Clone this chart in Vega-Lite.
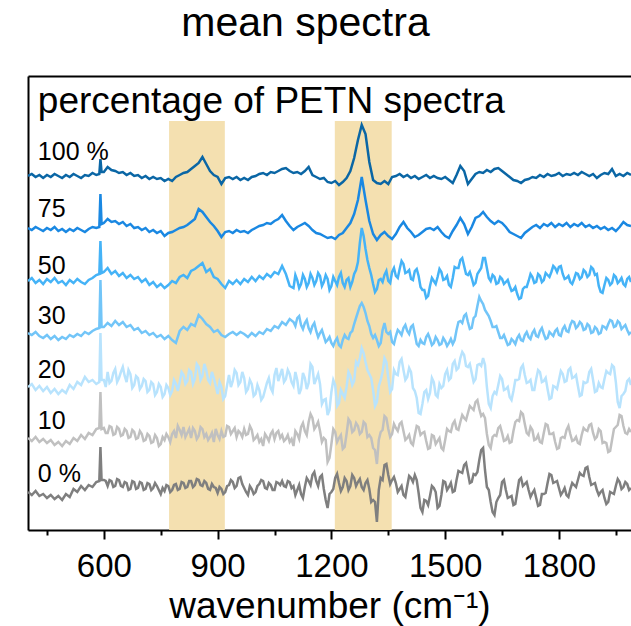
{
"$schema": "https://vega.github.io/schema/vega-lite/v6.json",
"width": 603, "height": 454,
"autosize": {"type": "none"},
"padding": {"left": 28, "top": 76, "right": 0, "bottom": 96},
"title": {"text": "mean spectra", "fontSize": 41, "font": "Liberation Sans", "fontWeight": "normal", "color": "#000000", "anchor": "middle", "dx": -24, "dy": 21, "baseline": "alphabetic", "offset": 20},
"config": {"view": {"stroke": null}, "font": "Liberation Sans"},
"datasets": {
"spec": [
{"x":400,"a":354,"b":302,"c":249,"d":197,"e":143,"f":92,"g":38},
{"x":410,"a":356,"b":300,"c":252,"d":195,"e":146,"f":89,"g":35},
{"x":420,"a":353,"b":303,"c":247,"d":198,"e":140,"f":93,"g":39},
{"x":430,"a":355,"b":301,"c":250,"d":194,"e":144,"f":88,"g":34},
{"x":440,"a":352,"b":299,"c":246,"d":192,"e":139,"f":91,"g":36},
{"x":450,"a":355,"b":302,"c":251,"d":195,"e":143,"f":87,"g":32},
{"x":460,"a":353,"b":300,"c":248,"d":191,"e":137,"f":90,"g":35},
{"x":470,"a":356,"b":303,"c":252,"d":194,"e":141,"f":85,"g":31},
{"x":480,"a":354,"b":299,"c":247,"d":190,"e":136,"f":88,"g":34},
{"x":490,"a":352,"b":301,"c":249,"d":193,"e":140,"f":84,"g":30},
{"x":500,"a":355,"b":298,"c":245,"d":191,"e":137,"f":89,"g":36},
{"x":510,"a":353,"b":301,"c":250,"d":195,"e":145,"f":86,"g":33},
{"x":520,"a":356,"b":299,"c":247,"d":193,"e":141,"f":92,"g":41},
{"x":530,"a":354,"b":302,"c":251,"d":196,"e":148,"f":89,"g":38},
{"x":540,"a":352,"b":300,"c":248,"d":194,"e":145,"f":95,"g":44},
{"x":550,"a":355,"b":298,"c":246,"d":198,"e":153,"f":91,"g":40},
{"x":560,"a":354,"b":301,"c":250,"d":196,"e":148,"f":97,"g":45},
{"x":570,"a":357,"b":303,"c":252,"d":199,"e":150,"f":95,"g":43},
{"x":580,"a":355,"b":302,"c":255,"d":201,"e":146,"f":101,"g":48},
{"x":588,"a":356,"b":303,"c":256,"d":202,"e":148,"f":102,"g":49},
{"x":591,"a":371,"b":336,"c":289,"d":250,"e":197,"f":138,"g":83},
{"x":594,"a":358,"b":306,"c":257,"d":203,"e":150,"f":101,"g":50},
{"x":600,"a":358,"b":307,"c":258,"d":203,"e":150,"f":102,"g":50},
{"x":610,"a":363,"b":311,"c":262,"d":207,"e":158,"f":97,"g":44},
{"x":620,"a":360,"b":308,"c":256,"d":204,"e":149,"f":103,"g":49},
{"x":630,"a":359,"b":309,"c":259,"d":209,"e":161,"f":96,"g":44},
{"x":640,"a":357,"b":306,"c":254,"d":205,"e":152,"f":101,"g":50},
{"x":650,"a":358,"b":308,"c":257,"d":208,"e":163,"f":95,"g":43},
{"x":660,"a":355,"b":304,"c":252,"d":203,"e":148,"f":99,"g":47},
{"x":670,"a":357,"b":306,"c":255,"d":205,"e":156,"f":93,"g":41},
{"x":680,"a":354,"b":302,"c":251,"d":200,"e":145,"f":98,"g":48},
{"x":690,"a":355,"b":303,"c":253,"d":202,"e":152,"f":92,"g":42},
{"x":700,"a":352,"b":300,"c":248,"d":197,"e":144,"f":96,"g":47},
{"x":710,"a":354,"b":302,"c":251,"d":199,"e":149,"f":90,"g":41},
{"x":720,"a":351,"b":298,"c":245,"d":195,"e":140,"f":94,"g":46},
{"x":730,"a":353,"b":300,"c":248,"d":197,"e":146,"f":88,"g":42},
{"x":740,"a":351,"b":297,"c":243,"d":193,"e":138,"f":92,"g":44},
{"x":750,"a":352,"b":299,"c":246,"d":195,"e":143,"f":86,"g":36},
{"x":760,"a":349,"b":294,"c":242,"d":191,"e":136,"f":90,"g":39},
{"x":770,"a":351,"b":297,"c":245,"d":194,"e":142,"f":93,"g":44},
{"x":780,"a":349,"b":298,"c":249,"d":190,"e":139,"f":96,"g":40},
{"x":790,"a":353,"b":300,"c":247,"d":187,"e":146,"f":92,"g":46},
{"x":800,"a":355,"b":302,"c":253,"d":199,"e":148,"f":100,"g":41},
{"x":810,"a":357,"b":303,"c":255,"d":203,"e":155,"f":103,"g":47},
{"x":820,"a":358,"b":305,"c":252,"d":200,"e":149,"f":97,"g":43},
{"x":830,"a":361,"b":308,"c":259,"d":206,"e":158,"f":92,"g":49},
{"x":840,"a":364,"b":311,"c":261,"d":204,"e":151,"f":99,"g":45},
{"x":850,"a":367,"b":321,"c":264,"d":215,"e":163,"f":94,"g":50},
{"x":860,"a":373,"b":318,"c":267,"d":211,"e":154,"f":101,"g":44},
{"x":870,"a":366,"b":313,"c":258,"d":206,"e":160,"f":96,"g":47},
{"x":880,"a":359,"b":308,"c":261,"d":203,"e":147,"f":93,"g":40},
{"x":890,"a":355,"b":304,"c":253,"d":198,"e":152,"f":88,"g":43},
{"x":900,"a":353,"b":299,"c":251,"d":200,"e":136,"f":95,"g":37},
{"x":910,"a":346,"b":293,"c":246,"d":195,"e":143,"f":99,"g":41},
{"x":920,"a":352,"b":298,"c":242,"d":193,"e":134,"f":94,"g":38},
{"x":930,"a":353,"b":299,"c":249,"d":196,"e":155,"f":103,"g":45},
{"x":940,"a":351,"b":297,"c":246,"d":198,"e":149,"f":99,"g":48},
{"x":950,"a":353,"b":300,"c":250,"d":195,"e":157,"f":93,"g":44},
{"x":960,"a":350,"b":298,"c":246,"d":198,"e":148,"f":97,"g":53},
{"x":970,"a":352,"b":299,"c":251,"d":196,"e":152,"f":101,"g":42},
{"x":980,"a":350,"b":297,"c":248,"d":193,"e":141,"f":96,"g":35},
{"x":990,"a":353,"b":300,"c":253,"d":197,"e":146,"f":100,"g":41},
{"x":1000,"a":354,"b":302,"c":249,"d":194,"e":136,"f":92,"g":38},
{"x":1010,"a":356,"b":304,"c":254,"d":198,"e":140,"f":88,"g":46},
{"x":1020,"a":357,"b":305,"c":251,"d":196,"e":133,"f":84,"g":49},
{"x":1030,"a":355,"b":307,"c":256,"d":201,"e":147,"f":93,"g":41},
{"x":1040,"a":358,"b":306,"c":253,"d":199,"e":142,"f":96,"g":45},
{"x":1050,"a":357,"b":309,"c":258,"d":204,"e":155,"f":91,"g":40},
{"x":1060,"a":359,"b":311,"c":256,"d":202,"e":149,"f":99,"g":47},
{"x":1070,"a":361,"b":315,"c":264,"d":208,"e":161,"f":95,"g":49},
{"x":1080,"a":362,"b":309,"c":256,"d":205,"e":151,"f":91,"g":43},
{"x":1090,"a":359,"b":304,"c":244,"d":211,"e":156,"f":88,"g":48},
{"x":1100,"a":357,"b":300,"c":242,"d":208,"e":144,"f":84,"g":44},
{"x":1110,"a":358,"b":303,"c":250,"d":212,"e":150,"f":96,"g":40},
{"x":1120,"a":356,"b":305,"c":246,"d":205,"e":141,"f":103,"g":36},
{"x":1130,"a":359,"b":307,"c":251,"d":207,"e":152,"f":99,"g":43},
{"x":1140,"a":363,"b":304,"c":247,"d":202,"e":147,"f":108,"g":49},
{"x":1150,"a":355,"b":300,"c":252,"d":204,"e":163,"f":112,"g":55},
{"x":1160,"a":353,"b":297,"c":249,"d":199,"e":151,"f":104,"g":49},
{"x":1170,"a":351,"b":296,"c":254,"d":197,"e":146,"f":99,"g":53},
{"x":1180,"a":352,"b":294,"c":248,"d":194,"e":130,"f":92,"g":41},
{"x":1190,"a":348,"b":292,"c":251,"d":190,"e":115,"f":68,"g":22},
{"x":1200,"a":347,"b":293,"c":244,"d":187,"e":138,"f":86,"g":38},
{"x":1210,"a":349,"b":291,"c":249,"d":189,"e":145,"f":98,"g":52},
{"x":1220,"a":345,"b":295,"c":253,"d":185,"e":127,"f":92,"g":47},
{"x":1230,"a":348,"b":297,"c":247,"d":190,"e":136,"f":81,"g":43},
{"x":1240,"a":352,"b":302,"c":250,"d":192,"e":143,"f":96,"g":49},
{"x":1250,"a":359,"b":307,"c":243,"d":197,"e":154,"f":108,"g":44},
{"x":1260,"a":372,"b":316,"c":256,"d":206,"e":149,"f":100,"g":52},
{"x":1270,"a":390,"b":330,"c":268,"d":218,"e":165,"f":104,"g":48},
{"x":1280,"a":405,"b":353,"c":302,"d":227,"e":182,"f":98,"g":43},
{"x":1290,"a":396,"b":330,"c":281,"d":217,"e":168,"f":106,"g":47},
{"x":1300,"a":368,"b":309,"c":262,"d":204,"e":156,"f":95,"g":41},
{"x":1310,"a":350,"b":296,"c":246,"d":192,"e":140,"f":82,"g":30},
{"x":1320,"a":347,"b":290,"c":241,"d":190,"e":128,"f":66,"g":8},
{"x":1330,"a":346,"b":295,"c":251,"d":187,"e":150,"f":98,"g":52},
{"x":1340,"a":349,"b":298,"c":255,"d":207,"e":172,"f":114,"g":65},
{"x":1350,"a":346,"b":294,"c":249,"d":196,"e":152,"f":101,"g":55},
{"x":1360,"a":353,"b":291,"c":258,"d":188,"e":141,"f":96,"g":50},
{"x":1370,"a":354,"b":296,"c":254,"d":194,"e":156,"f":102,"g":47},
{"x":1380,"a":356,"b":303,"c":261,"d":198,"e":168,"f":106,"g":41},
{"x":1390,"a":353,"b":308,"c":266,"d":202,"e":160,"f":99,"g":35},
{"x":1400,"a":355,"b":302,"c":258,"d":199,"e":153,"f":92,"g":44},
{"x":1410,"a":352,"b":298,"c":251,"d":203,"e":158,"f":87,"g":52},
{"x":1420,"a":354,"b":293,"c":259,"d":196,"e":139,"f":95,"g":55},
{"x":1430,"a":351,"b":295,"c":254,"d":184,"e":117,"f":103,"g":37},
{"x":1440,"a":353,"b":298,"c":240,"d":187,"e":126,"f":97,"g":18},
{"x":1450,"a":355,"b":301,"c":232,"d":193,"e":140,"f":89,"g":29},
{"x":1460,"a":352,"b":302,"c":244,"d":191,"e":137,"f":82,"g":34},
{"x":1470,"a":354,"b":300,"c":249,"d":187,"e":148,"f":94,"g":42},
{"x":1480,"a":352,"b":303,"c":253,"d":190,"e":133,"f":89,"g":22},
{"x":1490,"a":351,"b":298,"c":258,"d":186,"e":142,"f":82,"g":35},
{"x":1500,"a":353,"b":294,"c":251,"d":189,"e":156,"f":90,"g":48},
{"x":1510,"a":350,"b":292,"c":245,"d":187,"e":150,"f":99,"g":43},
{"x":1520,"a":347,"b":299,"c":252,"d":186,"e":166,"f":106,"g":38},
{"x":1530,"a":355,"b":305,"c":262,"d":200,"e":160,"f":101,"g":50},
{"x":1540,"a":364,"b":312,"c":270,"d":209,"e":172,"f":108,"g":58},
{"x":1550,"a":359,"b":306,"c":264,"d":214,"e":175,"f":112,"g":65},
{"x":1560,"a":346,"b":296,"c":255,"d":208,"e":163,"f":117,"g":57},
{"x":1570,"a":351,"b":303,"c":252,"d":202,"e":157,"f":122,"g":48},
{"x":1580,"a":356,"b":312,"c":247,"d":214,"e":151,"f":128,"g":55},
{"x":1590,"a":358,"b":314,"c":259,"d":233,"e":166,"f":121,"g":70},
{"x":1600,"a":357,"b":318,"c":272,"d":226,"e":172,"f":116,"g":82},
{"x":1610,"a":360,"b":313,"c":262,"d":217,"e":143,"f":96,"g":43},
{"x":1620,"a":358,"b":309,"c":249,"d":209,"e":122,"f":82,"g":28},
{"x":1630,"a":361,"b":306,"c":253,"d":203,"e":138,"f":95,"g":15},
{"x":1640,"a":362,"b":309,"c":247,"d":198,"e":145,"f":102,"g":32},
{"x":1650,"a":359,"b":307,"c":251,"d":192,"e":151,"f":97,"g":48},
{"x":1660,"a":356,"b":303,"c":248,"d":190,"e":141,"f":90,"g":40},
{"x":1670,"a":353,"b":298,"c":244,"d":186,"e":133,"f":87,"g":33},
{"x":1680,"a":350,"b":296,"c":240,"d":189,"e":139,"f":99,"g":25},
{"x":1690,"a":349,"b":294,"c":236,"d":192,"e":150,"f":110,"g":38},
{"x":1700,"a":347,"b":292,"c":232,"d":190,"e":162,"f":118,"g":52},
{"x":1710,"a":350,"b":297,"c":243,"d":195,"e":155,"f":106,"g":46},
{"x":1720,"a":351,"b":300,"c":249,"d":193,"e":148,"f":95,"g":40},
{"x":1730,"a":353,"b":303,"c":253,"d":197,"e":140,"f":100,"g":37},
{"x":1740,"a":352,"b":305,"c":248,"d":194,"e":151,"f":91,"g":32},
{"x":1750,"a":355,"b":302,"c":254,"d":199,"e":158,"f":88,"g":25},
{"x":1760,"a":353,"b":306,"c":250,"d":196,"e":149,"f":97,"g":36},
{"x":1770,"a":356,"b":304,"c":255,"d":192,"e":141,"f":105,"g":47},
{"x":1780,"a":354,"b":307,"c":258,"d":196,"e":132,"f":96,"g":55},
{"x":1790,"a":355,"b":303,"c":262,"d":199,"e":143,"f":88,"g":48},
{"x":1800,"a":357,"b":306,"c":263,"d":195,"e":150,"f":82,"g":42},
{"x":1810,"a":354,"b":304,"c":256,"d":201,"e":156,"f":93,"g":38},
{"x":1820,"a":356,"b":307,"c":252,"d":199,"e":149,"f":100,"g":35},
{"x":1830,"a":355,"b":303,"c":248,"d":205,"e":162,"f":96,"g":41},
{"x":1840,"a":357,"b":306,"c":251,"d":208,"e":153,"f":90,"g":45},
{"x":1850,"a":355,"b":304,"c":256,"d":204,"e":144,"f":87,"g":50},
{"x":1860,"a":358,"b":307,"c":253,"d":206,"e":135,"f":95,"g":55},
{"x":1870,"a":356,"b":303,"c":258,"d":201,"e":147,"f":100,"g":62},
{"x":1880,"a":354,"b":305,"c":255,"d":204,"e":158,"f":105,"g":53},
{"x":1890,"a":356,"b":302,"c":261,"d":198,"e":150,"f":97,"g":46},
{"x":1900,"a":352,"b":304,"c":256,"d":201,"e":139,"f":93,"g":40},
{"x":1910,"a":355,"b":301,"c":238,"d":197,"e":143,"f":99,"g":38},
{"x":1920,"a":357,"b":303,"c":245,"d":203,"e":151,"f":88,"g":32},
{"x":1930,"a":356,"b":300,"c":250,"d":206,"e":157,"f":78,"g":28},
{"x":1940,"a":361,"b":302,"c":247,"d":209,"e":165,"f":90,"g":37},
{"x":1950,"a":354,"b":299,"c":253,"d":204,"e":148,"f":103,"g":44},
{"x":1960,"a":356,"b":303,"c":249,"d":207,"e":122,"f":115,"g":48},
{"x":1970,"a":354,"b":308,"c":246,"d":203,"e":136,"f":104,"g":43},
{"x":1980,"a":357,"b":305,"c":251,"d":200,"e":149,"f":96,"g":46},
{"x":1990,"a":355,"b":304,"c":248,"d":198,"e":145,"f":98,"g":42},
{"x":605,"e":143,"f":97,"g":49},{"x":615,"e":147,"f":104,"g":50},{"x":625,"e":157,"f":95,"g":43},{"x":635,"e":148,"f":103,"g":51},{"x":645,"e":158,"f":94,"g":44},
{"x":655,"e":154,"f":101,"g":48},{"x":665,"e":160,"f":92,"g":40},{"x":675,"e":142,"f":100,"g":49},{"x":685,"e":154,"f":91,"g":41},{"x":695,"e":141,"f":99,"g":48},
{"x":705,"e":151,"f":89,"g":40},{"x":715,"e":138,"f":96,"g":47},{"x":725,"e":148,"f":87,"g":40},{"x":735,"e":135,"f":95,"g":47},{"x":745,"e":146,"f":84,"g":40},
{"x":755,"e":133,"f":93,"g":42},{"x":765,"e":145,"f":96,"g":45},{"x":775,"e":135,"f":88,"g":38},{"x":785,"e":150,"f":99,"g":45},{"x":795,"e":139,"f":104,"g":40},
{"x":805,"e":158,"f":95,"g":48},{"x":815,"e":146,"f":93,"g":42},{"x":825,"e":160,"f":101,"g":49},{"x":835,"e":146,"f":102,"g":43},{"x":845,"e":166,"f":91,"g":51},
{"x":855,"e":150,"f":103,"g":45},{"x":865,"e":166,"f":93,"g":49},{"x":875,"e":150,"f":90,"g":41},{"x":885,"e":158,"f":97,"g":46},{"x":895,"e":144,"f":101,"g":42},
{"x":905,"e":148,"f":91,"g":43},{"x":915,"e":131,"f":93,"g":36},{"x":925,"e":145,"f":104,"g":44},{"x":935,"e":143,"f":96,"g":50},{"x":945,"e":160,"f":102,"g":42},
{"x":955,"e":145,"f":99,"g":52},{"x":965,"e":158,"f":93,"g":46},{"x":975,"e":138,"f":95,"g":38},{"x":985,"e":150,"f":104,"g":44},{"x":995,"e":134,"f":90,"g":36},
{"x":1005,"e":145,"f":95,"g":44},{"x":1015,"e":130,"f":91,"g":50},{"x":1025,"e":140,"f":96,"g":42},{"x":1035,"e":152,"f":89,"g":47},{"x":1045,"e":138,"f":99,"g":40},
{"x":1055,"e":162,"f":97,"g":48},{"x":1065,"e":155,"f":92,"g":45},{"x":1075,"e":148,"f":89,"g":44},{"x":1085,"e":160,"f":95,"g":49},{"x":1095,"e":148,"f":91,"g":42},
{"x":1105,"c":255,"d":204,"e":158,"f":99,"g":35},{"x":1115,"c":242,"d":214,"e":136,"f":91,"g":45},{"x":1125,"c":255,"d":201,"e":157,"f":107,"g":32},{"x":1135,"c":243,"d":210,"e":141,"f":95,"g":52},{"x":1145,"c":256,"d":198,"e":166,"f":116,"g":45},
{"x":1155,"c":245,"d":207,"e":146,"f":101,"g":58},{"x":1165,"c":257,"d":193,"e":156,"f":108,"g":44},{"x":1175,"c":244,"d":200,"e":126,"f":88,"g":55},{"x":1185,"c":255,"d":188,"e":131,"f":90,"g":30},{"x":1195,"c":240,"d":193,"e":120,"f":72,"g":36},
{"x":1205,"c":253,"d":184,"e":150,"f":101,"g":41},{"x":1215,"c":245,"d":192,"e":124,"f":88,"g":56},{"x":1225,"c":257,"d":183,"e":140,"f":95,"g":39},{"x":1235,"c":243,"d":195,"e":132,"f":83,"g":52},{"x":1245,"c":252,"d":191,"e":158,"f":111,"g":40},
{"x":1255,"c":248,"d":199,"e":145,"f":98,"g":55},{"x":1265,"c":260,"d":212,"e":168,"f":107,"g":44},{"x":1275,"c":287,"d":224,"e":172,"f":96,"g":51},{"x":1285,"c":294,"d":223,"e":177,"f":108,"g":40},{"x":1295,"c":270,"d":209,"e":160,"f":93,"g":50},
{"x":1305,"c":255,"d":196,"e":152,"f":92,"g":28},{"x":1315,"c":238,"d":195,"e":124,"f":80,"g":28},{"x":1325,"c":250,"d":184,"e":144,"f":90,"g":40},{"x":1335,"c":248,"d":200,"e":158,"f":100,"g":50},{"x":1345,"c":259,"d":198,"e":168,"f":112,"g":66},
{"x":1355,"c":247,"d":198,"e":138,"f":93,"g":46},{"x":1365,"c":262,"d":186,"e":160,"f":106,"g":53},{"x":1375,"c":252,"d":200,"e":155,"f":99,"g":38},{"x":1385,"c":269,"d":195,"e":171,"f":108,"g":44},{"x":1395,"c":257,"d":205,"e":150,"f":90,"g":33},
{"x":1405,"c":260,"d":196,"e":162,"f":95,"g":54},{"x":1415,"c":250,"d":205,"e":142,"f":85,"g":48},{"x":1425,"c":261,"d":186,"e":132,"f":104,"g":50},{"x":1435,"c":243,"d":190,"e":116,"f":95,"g":22},{"x":1445,"c":240,"d":186,"e":138,"f":98,"g":30},
{"x":1455,"c":234,"d":196,"e":131,"f":81,"g":25},{"x":1465,"c":252,"d":185,"e":152,"f":95,"g":44},{"x":1475,"c":246,"d":193,"e":135,"f":86,"g":38},{"x":1485,"c":261,"d":185,"e":146,"f":92,"g":24},{"x":1495,"c":250,"d":192,"e":144,"f":80,"g":49},
{"x":1505,"c":254,"d":184,"e":160,"f":101,"g":40},{"x":1515,"c":243,"d":191,"e":152,"f":98,"g":47},{"x":1525,"c":263,"d":190,"e":169,"f":109,"g":39},{"x":1535,"c":262,"d":208,"e":162,"f":100,"g":59},{"x":1545,"c":272,"d":207,"e":178,"f":115,"g":57},
{"x":1555,"c":256,"d":216,"e":164,"f":110,"g":67},{"x":1565,"c":258,"d":201,"e":166,"f":124,"g":47},{"x":1575,"c":245,"d":212,"e":148,"f":120,"g":56},{"x":1585,"c":256,"d":224,"e":165,"f":130,"g":58},{"x":1595,"c":262,"d":229,"e":164,"f":114,"g":80},
{"x":1605,"c":272,"d":220,"e":165,"f":112,"g":60},{"x":1615,"c":252,"d":214,"e":126,"f":85,"g":40},{"x":1625,"c":255,"d":203,"e":134,"f":93,"g":18},{"x":1635,"c":246,"d":204,"e":136,"f":94,"g":28},{"x":1645,"c":253,"d":192,"e":154,"f":104,"g":35},
{"x":1655,"c":246,"d":195,"e":140,"f":89,"g":50},{"x":1665,"c":250,"d":185,"e":143,"f":94,"g":32},{"x":1675,"c":239,"d":191,"e":130,"f":88,"g":34},{"x":1685,"c":243,"d":186,"e":150,"f":108,"g":26},{"x":1695,"c":231,"d":195,"e":151,"f":109,"g":50},
{"x":1705,"c":241,"d":189,"e":165,"f":116,"g":44},{"x":1715,"c":243,"d":198,"e":147,"f":97,"g":48},{"x":1725,"c":256,"d":191,"e":150,"f":103,"g":33},{"x":1735,"c":247,"d":200,"e":140,"f":90,"g":40},{"x":1745,"c":256,"d":193,"e":160,"f":95,"g":24},
{"x":1755,"c":248,"d":202,"e":148,"f":87,"g":36},{"x":1765,"c":257,"d":191,"e":152,"f":106,"g":37},{"x":1775,"c":253,"d":198,"e":131,"f":96,"g":56},{"x":1785,"c":264,"d":194,"e":144,"f":97,"g":47},{"x":1795,"c":258,"d":201,"e":141,"f":81,"g":49},
{"x":1805,"c":264,"d":194,"e":159,"f":92,"g":35},{"x":1815,"c":251,"d":204,"e":148,"f":92,"g":42},{"x":1825,"c":254,"d":198,"e":160,"f":104,"g":33},{"x":1835,"c":246,"d":209,"e":152,"f":89,"g":47},{"x":1845,"c":257,"d":202,"e":155,"f":93,"g":43},
{"x":1855,"c":251,"d":208,"e":134,"f":86,"g":57},{"x":1865,"c":260,"d":200,"e":148,"f":102,"g":54},{"x":1875,"c":253,"d":206,"e":148,"f":99,"g":63},{"x":1885,"c":263,"d":197,"e":161,"f":106,"g":45},{"x":1895,"c":255,"d":203,"e":138,"f":91,"g":47},
{"x":1905,"c":244,"d":196,"e":147,"f":101,"g":35},{"x":1915,"c":237,"d":204,"e":142,"f":87,"g":40},{"x":1925,"c":252,"d":201,"e":159,"f":87,"g":26},{"x":1935,"c":245,"d":210,"e":156,"f":79,"g":38},{"x":1945,"c":255,"d":203,"e":163,"f":101,"g":36},
{"x":1955,"c":247,"d":209,"e":128,"f":105,"g":51},{"x":1965,"c":252,"d":201,"e":134,"f":114,"g":41},{"x":1975,"c":244,"d":205,"e":139,"f":97,"g":48},{"x":1985,"c":253,"d":196,"e":151,"f":101,"g":40}
],
"bands": [{"x1": 772, "x2": 919}, {"x1": 1209, "x2": 1359}],
"labels": [
{"x": 426, "y": 370.5, "t": "100 %"},
{"x": 426, "y": 313.3, "t": "75"},
{"x": 426, "y": 255.7, "t": "50"},
{"x": 426, "y": 205.7, "t": "30"},
{"x": 426, "y": 152.3, "t": "20"},
{"x": 426, "y": 101, "t": "10"},
{"x": 426, "y": 48.3, "t": "0 %"}
],
"heading": [{"x": 426, "y": 416.7, "t": "percentage of PETN spectra"}]
},
"layer": [
{
"data": {"name": "bands"},
"mark": {"type": "rect", "color": "#f4e0b0"},
"encoding": {
"x": {"field": "x1", "type": "quantitative", "scale": {"domain": [400, 1990], "nice": false, "zero": false},
"axis": {"orient": "bottom", "values": [600, 900, 1200, 1500, 1800], "format": "d", "tickSize": 9, "tickWidth": 2, "tickColor": "#000000", "domainColor": "#000000", "domainWidth": 2, "labelFontSize": 33, "labelColor": "#000000", "labelFont": "Liberation Sans", "labelPadding": 11, "labelFlush": false, "title": "wavenumber (cm⁻¹)", "titleFontSize": 37, "titleFont": "Liberation Sans", "titleFontWeight": "normal", "titleColor": "#000000", "titlePadding": 5, "grid": false}},
"x2": {"field": "x2"},
"y": {"datum": 0, "type": "quantitative", "scale": {"domain": [0, 454], "nice": false, "zero": false},
"axis": {"orient": "left", "domainColor": "#000000", "domainWidth": 2, "ticks": false, "labels": false, "title": null, "grid": false}},
"y2": {"datum": 409}
}
},
{
"data": {"name": "spec"},
"transform": [{"fold": ["g", "f", "e", "d", "c", "b", "a"], "as": ["key", "value"]}, {"filter": "isValid(datum.value)"}],
"mark": {"type": "line", "strokeWidth": 2.5, "clip": true},
"encoding": {
"x": {"field": "x", "type": "quantitative", "axis": {"orient": "top", "domainColor": "#000000", "domainWidth": 2, "ticks": false, "labels": false, "title": null, "grid": false}},
"y": {"field": "value", "type": "quantitative", "axis": null},
"color": {"field": "key", "type": "nominal", "scale": {"domain": ["a", "b", "c", "d", "e", "f", "g"], "range": ["#0a66a5", "#1a88e2", "#45b3f7", "#72c5f8", "#b8e3fd", "#c0c0c0", "#7f7f7f"]}, "legend": null},
"order": {"field": "x", "type": "quantitative"}
}
},
{
"data": {"name": "labels"},
"mark": {"type": "text", "align": "left", "baseline": "alphabetic", "font": "Liberation Sans", "fontSize": 25, "color": "#000000"},
"encoding": {
"x": {"field": "x", "type": "quantitative", "axis": {"orient": "bottom", "values": [450, 750, 1050, 1350, 1650, 1950], "tickSize": 5, "tickWidth": 2, "tickColor": "#000000", "domain": false, "labels": false, "title": null, "grid": false}},
"y": {"field": "y", "type": "quantitative", "axis": null},
"text": {"field": "t"}
}
},
{
"data": {"name": "heading"},
"mark": {"type": "text", "align": "left", "baseline": "alphabetic", "font": "Liberation Sans", "fontSize": 37, "color": "#000000"},
"encoding": {
"x": {"field": "x", "type": "quantitative", "axis": null},
"y": {"field": "y", "type": "quantitative", "axis": null},
"text": {"field": "t"}
}
}
],
"resolve": {"axis": {"x": "independent", "y": "independent"}}
}
